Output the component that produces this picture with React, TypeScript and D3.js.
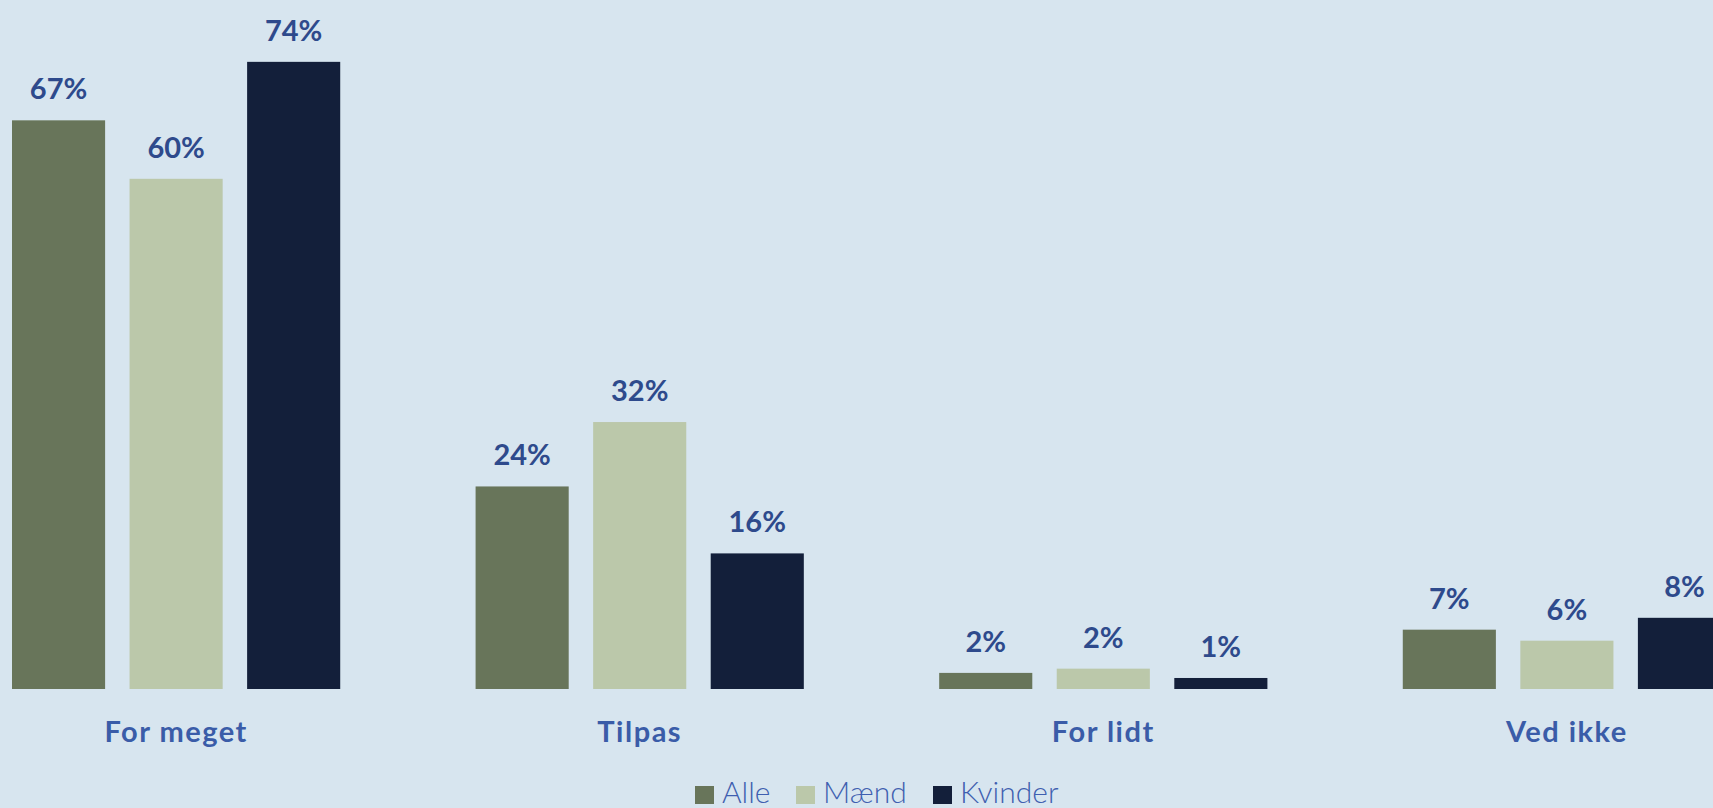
import React, { useRef, useEffect } from 'react';
import * as d3 from 'd3';

const categories = ['For meget', 'Tilpas', 'For lidt', 'Ved ikke'];
const seriesNames = ['Alle', 'Mænd', 'Kvinder'];
const alleValues = [67.1, 23.9, 1.9, 7.0];
const maendValues = [60.2, 31.5, 2.4, 5.7];
const kvinderValues = [74.0, 16.0, 1.3, 8.4];
const seriesColors = ['#68755a', '#bbc8aa', '#131f3a'];

const WIDTH = 1713;
const HEIGHT = 808;

const App = () => {
    const svgRef = useRef<SVGSVGElement>(null);

    useEffect(() => {
        document.body.style.margin = '0';
        document.body.style.background = '#d7e5ef';

        const svg = d3.select(svgRef.current);
        svg.selectAll('*').remove();

        const margin = { top: 11, left: 12, bottom: 119 };
        const plotRight = 1731;

        const series = [alleValues, maendValues, kvinderValues];
        const data = categories.map((cat, i) => ({
            cat,
            values: series.map((s, j) => ({ name: seriesNames[j], value: s[i], color: seriesColors[j] })),
        }));

        const x0 = d3.scaleBand()
            .domain(categories)
            .range([margin.left, plotRight])
            .paddingInner(0.292)
            .paddingOuter(0);

        const x1 = d3.scaleBand()
            .domain(seriesNames)
            .range([0, x0.bandwidth()])
            .paddingInner(0.208)
            .paddingOuter(0);

        const yScale = d3.scaleLinear()
            .domain([0, 80])
            .range([HEIGHT - margin.bottom, margin.top]);

        svg.append('rect')
            .attr('width', WIDTH)
            .attr('height', HEIGHT)
            .attr('fill', '#d7e5ef');

        const groups = svg.selectAll('.group')
            .data(data)
            .enter()
            .append('g')
            .attr('class', 'group')
            .attr('transform', d => `translate(${x0(d.cat)},0)`);

        groups.selectAll('rect')
            .data(d => d.values)
            .enter()
            .append('rect')
            .attr('x', d => x1(d.name)!)
            .attr('y', d => yScale(d.value))
            .attr('width', x1.bandwidth())
            .attr('height', d => yScale(0) - yScale(d.value))
            .attr('fill', d => d.color);

        groups.selectAll('.val')
            .data(d => d.values)
            .enter()
            .append('text')
            .attr('class', 'val')
            .attr('x', d => x1(d.name)! + x1.bandwidth() / 2)
            .attr('y', d => yScale(d.value) - 21)
            .attr('text-anchor', 'middle')
            .style('font-family', 'Lato, sans-serif')
            .style('font-weight', 700)
            .style('font-size', '29px')
            .style('fill', '#2e4a8c')
            .text(d => `${Math.round(d.value)}%`);

        // category axis, no line or ticks
        const xAxis = d3.axisBottom(x0).tickSize(0).tickPadding(0);
        const axisG = svg.append('g')
            .attr('transform', `translate(0,${yScale(0)})`)
            .call(xAxis);
        axisG.select('.domain').remove();
        axisG.selectAll('text')
            .attr('dy', null)
            .attr('y', 53)
            .style('font-family', 'Lato, sans-serif')
            .style('font-weight', 700)
            .style('font-size', '29px')
            .style('letter-spacing', '1.5px')
            .style('fill', '#3a5ca8');

        // legend
        const legendX = d3.scaleOrdinal<string, number>()
            .domain(seriesNames)
            .range([695, 796, 933]);
        const legend = svg.append('g').attr('transform', `translate(0,${HEIGHT - 5})`);
        const items = legend.selectAll('.item')
            .data(seriesNames)
            .enter()
            .append('g')
            .attr('class', 'item')
            .attr('transform', d => `translate(${legendX(d)},0)`);
        items.append('rect')
            .attr('y', -17)
            .attr('width', 19)
            .attr('height', 18)
            .attr('fill', (d, i) => seriesColors[i]);
        items.append('text')
            .attr('x', 27)
            .attr('y', 0)
            .style('font-family', 'Lato, sans-serif')
            .style('font-weight', 300)
            .style('font-size', '30px')
            .style('fill', '#3f5fb0')
            .text(d => d);
    }, []);

    return (
        <svg
            ref={svgRef}
            width={WIDTH}
            height={HEIGHT}
            style={{ display: 'block', overflow: 'hidden' }}
        ></svg>
    );
};

export default App;
